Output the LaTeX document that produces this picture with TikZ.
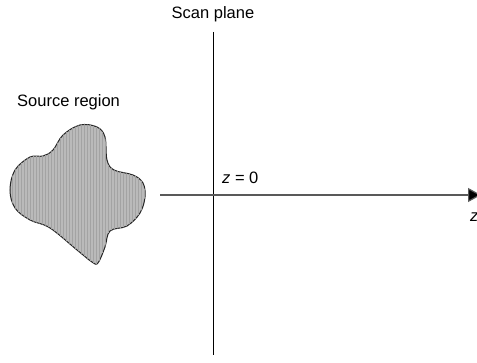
\documentclass[tikz,border=0pt]{standalone}
\usepackage{fontspec}
\setmainfont{Liberation Sans}
\usetikzlibrary{arrows.meta,patterns}
\begin{document}
\begin{tikzpicture}[x=1pt,y=-1pt,
  lbl/.style={inner sep=0pt,font=\fontsize{16.5}{19}\selectfont},
  axisline/.style={line width=1.2pt,draw=black!65},
  planeline/.style={line width=1pt,draw=black},
  blob/.style={draw=black!85,line width=1pt,fill=black!27,
     postaction={pattern=vertical lines,pattern color=black!36}}]
\useasboundingbox (0,0) rectangle (477,363);
% scan plane
\coordinate (ptop) at (213,32);
\coordinate (pbot) at (213,355);
\draw[planeline] (ptop) -- (pbot);
% z axis
\coordinate (zstart) at (160,195);
\coordinate (zend) at (481,195);
\draw[axisline,-{Triangle[length=13pt,width=14pt,fill=black]}] (zstart) -- (zend);
% source region
\draw[blob] plot[smooth cycle,tension=0.6] coordinates {
 (63,135) (80,125) (97,127) (105,137) (107,160) (114,170) (133,175) (143,183)
 (145,197) (140,213) (127,226) (110,231) (105,247) (98,263) (92,262) (77,250)
 (50,228) (30,220) (15,208) (10,190) (15,170) (30,157) (43,156) (53,150)};
% labels
\node[lbl] (scan) at (213,14) {Scan plane};
\node[lbl,anchor=west] (src) at (17,102) {Source region};
\node[lbl,anchor=west] (z0) at (222,178) {\textit{z} = 0};
\node[lbl,anchor=west] (zl) at (470,217) {\textit{z}};
\end{tikzpicture}
\end{document}
